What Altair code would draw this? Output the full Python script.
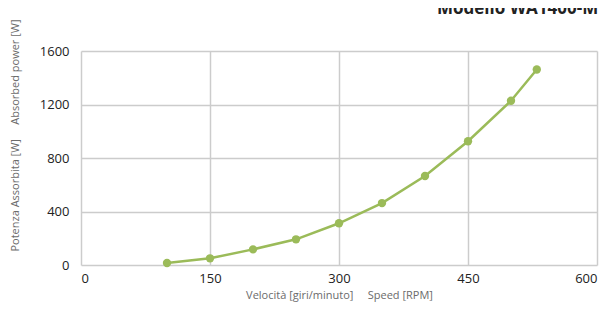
import altair as alt
import pandas as pd

speed = [100, 150, 200, 250, 300, 350, 400, 450, 500, 530]
power = [15, 50, 117, 192, 312, 463, 665, 925, 1228, 1462]

df = pd.DataFrame({"speed": speed, "power": power})

x_ticks = [0, 150, 300, 450, 600]
y_ticks = [0, 400, 800, 1200, 1600]

FONT = "Open Sans"
GREEN = "#9bbb59"
NB = "\u00a0"

x_title = "Velocità [giri/minuto]" + NB * 5 + "Speed [RPM]"
y_title = "Potenza Assorbita [W]" + NB * 5 + "Absorbed power [W]"

x = alt.X(
    "speed:Q",
    scale=alt.Scale(domain=[0, 600], nice=False),
    axis=alt.Axis(
        values=x_ticks, title=x_title, grid=True, ticks=False, domain=False, format="d",
        labelFontSize=13, labelColor="#222222", labelPadding=7, labelFont=FONT,
        titleFont=FONT, titleFontSize=11, titleFontWeight="normal", titleColor="#6b6b6b",
        titleY=33, titleBaseline="alphabetic", titleAlign="center",
        gridColor="#cccccc", gridWidth=1.5,
    ),
)
y = alt.Y(
    "power:Q",
    scale=alt.Scale(domain=[0, 1600], nice=False),
    axis=alt.Axis(
        values=y_ticks, title=y_title, grid=True, ticks=False, domain=False, format="d",
        labelFontSize=13, labelColor="#222222", labelPadding=12, labelFont=FONT,
        titleFont=FONT, titleFontSize=11, titleFontWeight="normal", titleColor="#6b6b6b",
        titleX=-66, titleY=84, titleAlign="center", titleBaseline="middle", titleAngle=270,
        gridColor="#cccccc", gridWidth=1.5,
    ),
)

line = alt.Chart(df).mark_line(color=GREEN, strokeWidth=2.5).encode(x=x, y=y)
pts = alt.Chart(df).mark_circle(color=GREEN, size=70, opacity=1).encode(x=x, y=y)

title_df = pd.DataFrame({"t": ["Modello WA1400-M"]})
title = alt.Chart(title_df).mark_text(
    align="left", baseline="alphabetic", fontSize=17, fontWeight="bold",
    font=FONT, color="#222222",
).encode(text="t:N", x=alt.value(356), y=alt.value(-37))

chart = alt.layer(line, pts, title).properties(
    width=516, height=214,
    autosize=alt.AutoSizeParams(type="none"),
    padding={"left": 73, "top": 43, "right": 5, "bottom": 38},
).configure_view(stroke=None)

chart.save("out.html", embed_options={"renderer": "svg", "actions": False})
